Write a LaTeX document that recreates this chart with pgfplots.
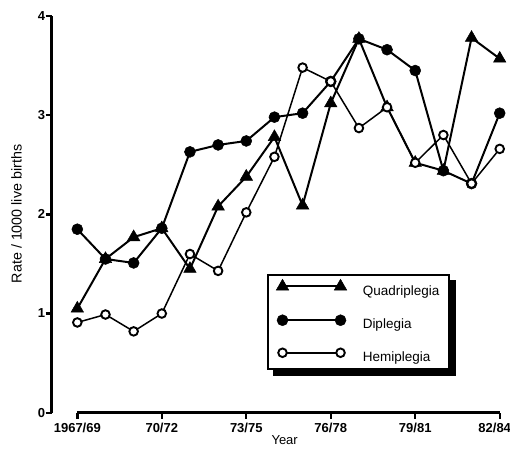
\documentclass[border=0pt]{standalone}
\usepackage{fontspec}
\setmainfont{Liberation Sans}
\usepackage{pgfplots}
\pgfplotsset{compat=1.18}
\usetikzlibrary{backgrounds}

% Cerebral palsy rates per 1000 live births, three-year moving periods
\pgfplotstableread{
year quad dip hemi
1967 1.05 1.85 0.91
1968 1.55 1.55 0.99
1969 1.77 1.51 0.82
1970 1.86 1.86 1.00
1971 1.45 2.63 1.60
1972 2.08 2.70 1.43
1973 2.38 2.74 2.02
1974 2.78 2.98 2.58
1975 2.09 3.02 3.48
1976 3.12 3.34 3.34
1977 3.77 3.77 2.87
1978 3.08 3.66 3.08
1979 2.52 3.45 2.52
1980 2.44 2.44 2.80
1981 3.78 2.31 2.31
1982 3.57 3.02 2.66
}\cpdata

\begin{document}
\begin{tikzpicture}
\begin{axis}[
  scale only axis,
  width=448pt, height=396.7pt,
  xmin=1966.09, xmax=1982,
  ymin=0, ymax=4,
  clip=false,
  axis lines=left,
  axis line style={line width=2.6pt, -},
  x axis line style={draw=none},
  xtick={1967,1970,1973,1976,1979,1982},
  xticklabels={1967/69,70/72,73/75,76/78,79/81,{\hspace*{-10pt}82/84}},
  ytick={0,1,2,3,4},
  tick align=outside,
  major tick length=6pt,
  tick style={line width=2.4pt, black},
  /pgf/number format/assume math mode=true,
  tick label style={font=\bfseries\fontsize{13}{13}\selectfont},
  xticklabel style={yshift=-1pt},
  yticklabel style={xshift=3pt},
  ylabel={Rate / 1000 live births},
  ylabel style={at={(axis description cs:-0.0783,0.501)}, anchor=center, rotate=0,
    font=\fontsize{14.3}{14}\selectfont},
  xlabel={Year},
  xlabel style={at={(axis description cs:0.52,-0.0814)}, anchor=base,
    font=\fontsize{13}{13}\selectfont},
  legend image code/.code={\draw[#1] plot coordinates {(0pt,4.6pt) (58pt,4.6pt)};},
  legend cell align=left,
  legend style={
    name=cplegend,
    at={(0.4812,0.1076)}, anchor=south west,
    draw=black, line width=2pt, fill=white,
    font=\fontsize{13.5}{14}\selectfont,
    row sep=16pt, column sep=14pt, inner xsep=8pt, inner ysep=4pt,
  },
]
\draw[line width=2.6pt] (axis cs:1967,0) -- (axis cs:1982,0);

\addplot[black, line width=2pt, mark=triangle*, mark size=7.2pt,
  mark options={solid, line width=0.5pt}]
  table[x=year, y=quad] {\cpdata};
\addlegendentry{Quadriplegia\hspace{7pt}}

\addplot[black, line width=2pt, mark=*, mark size=5.5pt,
  mark options={solid, line width=0.5pt}]
  table[x=year, y=dip] {\cpdata};
\addlegendentry{Diplegia}

\addplot[black, line width=1.5pt, mark=*, mark size=4.3pt,
  mark options={solid, fill=white, line width=1.9pt}]
  table[x=year, y=hemi] {\cpdata};
\addlegendentry{Hemiplegia}
\end{axis}
% drop shadow behind the legend box
\begin{pgfonlayer}{background}
\fill[black] ([xshift=6pt,yshift=-6pt]cplegend.south west)
  rectangle ([xshift=6pt,yshift=-6pt]cplegend.north east);
\end{pgfonlayer}
\pgfresetboundingbox
\useasboundingbox (-51.7pt,-42.3pt) rectangle (458.3pt,412.7pt);
\end{tikzpicture}
\end{document}
